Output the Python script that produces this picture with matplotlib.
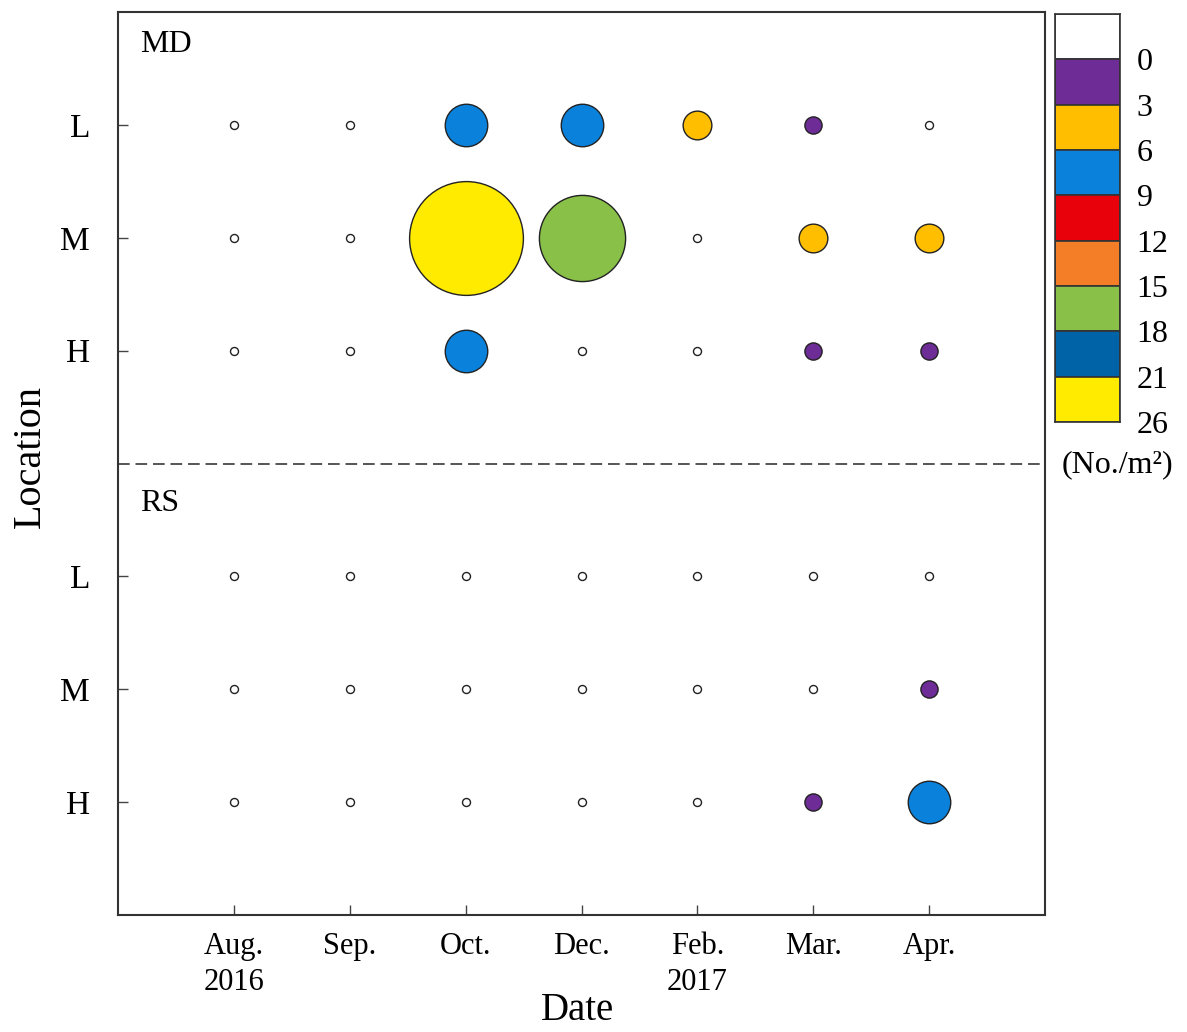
import matplotlib.pyplot as plt
import numpy as np

plt.rcParams['font.family'] = ['Liberation Serif', 'DejaVu Serif']

months = ["Aug.\n2016", "Sep.", "Oct.", "Dec.", "Feb.\n2017", "Mar.", "Apr."]
levels = ["L", "M", "H"]

# density (No./m2), rows L, M, H
md_vals = [
    [0, 0, 7.5, 7.5, 4.5, 2, 0],
    [0, 0, 23, 17, 0, 4.5, 4.5],
    [0, 0, 7.5, 0, 0, 2, 2],
]
rs_vals = [
    [0, 0, 0, 0, 0, 0, 0],
    [0, 0, 0, 0, 0, 0, 2],
    [0, 0, 0, 0, 0, 2, 7.5],
]

bin_edges = [0, 3, 6, 9, 12, 15, 18, 21, 26]
bin_colors = ["#FFFFFF", "#6E2C96", "#FFBE00", "#0A82DC", "#E8000B",
              "#F47D28", "#88C048", "#0063A8", "#FFEB00"]


def color_for(v):
    if v <= 0:
        return bin_colors[0]
    i = np.searchsorted(bin_edges, v, side="left")
    return bin_colors[min(i, len(bin_colors) - 1)]


def size_for(v):
    # radius in px -> marker area in pt^2
    r_px = 4 + 2.3 * v
    return (2 * r_px * 0.72) ** 2


fig = plt.figure(figsize=(11.87, 10.32), dpi=100)
ax = fig.add_axes([118 / 1187, 1 - 915 / 1032, (1045 - 118) / 1187, (915 - 12) / 1032])

xs = np.arange(1, len(months) + 1)
for block, base in ((md_vals, 5), (rs_vals, 1)):
    for j, row in enumerate(block):
        y = base + 2 - j
        for x, v in zip(xs, row):
            ax.scatter(x, y, s=size_for(v), c=color_for(v), edgecolors="#222222",
                       linewidths=1.0, zorder=3)

ax.axhline(4, color="#555555", linestyle=(0, (6, 3)), linewidth=1.4)
ax.set_xlim(0, 8)
ax.set_ylim(0, 8)
ax.set_xticks(xs)
ax.set_xticklabels(months, fontsize=22, linespacing=1.35, va="top")
ax.set_yticks([7, 6, 5, 3, 2, 1])
ax.set_yticklabels(levels + levels, fontsize=24)
ax.tick_params(direction="in", length=7, width=1, colors="#444444", labelcolor="black", pad=12)
ax.tick_params(axis="y", pad=20)
for s in ax.spines.values():
    s.set_linewidth(1.5)
    s.set_color("#333333")

ax.text(0.19, 7.71, "MD", fontsize=23, va="center", ha="left")
ax.text(0.19, 3.65, "RS", fontsize=23, va="center", ha="left")

fig.text(578 / 1187, 1 - 1010 / 1032, "Date", fontsize=28, ha="center", va="center")
fig.text(30 / 1187, 1 - 457 / 1032, "Location", fontsize=29, ha="center", va="center",
         rotation=90)

# discrete colour key, drawn as stacked boxes from top to bottom
cax = fig.add_axes([1055 / 1187, 1 - 422 / 1032, 65 / 1187, 408 / 1032])
idx = np.arange(len(bin_colors))
cax.bar(np.zeros_like(idx), np.ones_like(idx), bottom=idx, width=1, color=bin_colors,
        edgecolor="#333333", linewidth=1.2, align="edge")
cax.set_xlim(0, 1)
cax.set_ylim(len(bin_colors), 0)
cax.set_xticks([])
cax.yaxis.tick_right()
cax.set_yticks(idx + 1)
cax.set_yticklabels([str(b) for b in bin_edges])
cax.tick_params(length=0, labelsize=23, pad=12)
for s in cax.spines.values():
    s.set_linewidth(1.2)
    s.set_color("#333333")
fig.text(1117 / 1187, 1 - 465 / 1032, "(No./m²)", fontsize=23, ha="center", va="center")

fig.savefig("out.png", dpi=100)
